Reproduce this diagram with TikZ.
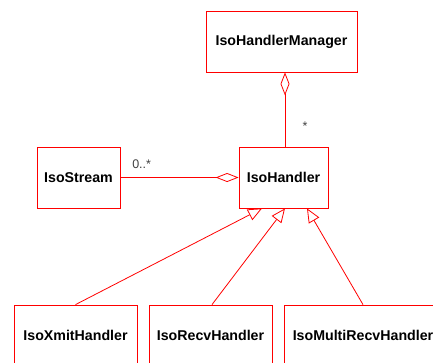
\documentclass[tikz,border=0pt]{standalone}
\usepackage{fontspec}
\setsansfont{Liberation Sans}
\usetikzlibrary{arrows.meta, calc}

\begin{document}
\begin{tikzpicture}[x=1pt, y=-1pt, line width=0.8pt]
    \tikzstyle{cls} = [draw=red, shape=rectangle, minimum height=61pt, inner xsep=7pt,
                       font=\sffamily\bfseries\fontsize{14.2}{16}\selectfont]
    \tikzstyle{mult} = [font=\sffamily\fontsize{12.5}{14}\selectfont, text=black!75]
    \tikzstyle{agg} = [draw=red, -{Diamond[open, length=23pt, width=9pt]}]
    \tikzstyle{isa} = [draw=red, -{Triangle[open, length=14pt, width=12pt]}]
    \useasboundingbox (0, 0) rectangle (433, 362);
    \clip (0, 0) rectangle (433, 362);
    \node (mgr) [cls, minimum width=151pt] at (281.5, 41.5) {IsoHandlerManager};
    \node (str) [cls, minimum width=83pt] at (78.5, 177.5) {IsoStream};
    \node (hnd) [cls, minimum width=89pt] at (283.5, 177.5) {IsoHandler};
    \node (xmit) [cls, minimum width=123pt] at (75.5, 335.5) {IsoXmitHandler};
    \node (recv) [cls, minimum width=123pt] at (210.5, 335.5) {IsoRecvHandler};
    \node (mrecv) [cls, minimum width=158pt] at (363, 335.5) {IsoMultiRecvHandler};
      % aggregations
      \draw [agg] ($(hnd.north)+(1.5,0)$) -- ($(hnd.north |- mgr.south)+(1.5,0)$)
          node[mult, pos=0.27, right=14pt] {*};
      \draw [agg] (str.east) -- (hnd.west)
          node[mult, pos=0.18, above=5pt] {0..*};
      % generalisations
      \draw [isa] (xmit.north) -- ($(hnd.south)+(-21.5,0)$);
      \draw [isa] ($(recv.north)+(1.5,0)$) -- ($(hnd.south)+(1.5,0)$);
      \draw [isa] (mrecv.north) -- ($(hnd.south)+(23.5,0)$);
  \end{tikzpicture}
\end{document}
